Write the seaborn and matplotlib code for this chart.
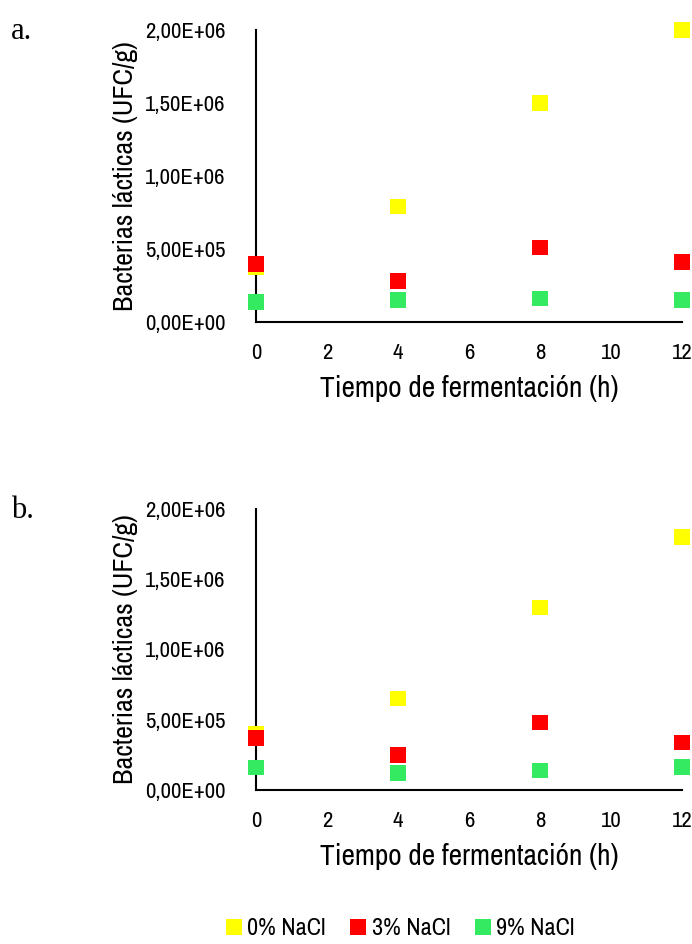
import seaborn as sns
import matplotlib.pyplot as plt
import pandas as pd
from matplotlib import font_manager
from matplotlib.lines import Line2D
from matplotlib.ticker import FuncFormatter

hours = [0, 4, 8, 12]
series_names = ['0% NaCl', '3% NaCl', '9% NaCl']
colors = ['#FFFF00', '#FF0000', '#33EA60']

# panel a
a_0 = [3.75e5, 7.9e5, 1.5e6, 2.0e6]
a_3 = [3.98e5, 2.8e5, 5.1e5, 4.1e5]
a_9 = [1.38e5, 1.5e5, 1.6e5, 1.5e5]

# panel b
b_0 = [4.0e5, 6.5e5, 1.3e6, 1.8e6]
b_3 = [3.7e5, 2.5e5, 4.8e5, 3.4e5]
b_9 = [1.6e5, 1.2e5, 1.4e5, 1.65e5]

yticks = [0, 5e5, 1e6, 1.5e6, 2e6]
xticks = [0, 2, 4, 6, 8, 10, 12]

sns.set_style('white')
names = {f.name for f in font_manager.fontManager.ttflist}
narrow = sorted(n for n in names if 'Narrow' in n or 'Condensed' in n)
plt.rcParams['font.family'] = narrow[:1] + ['DejaVu Sans']
plt.rcParams['font.stretch'] = 'condensed'
plt.rcParams['text.color'] = 'black'
plt.rcParams['axes.labelcolor'] = 'black'
plt.rcParams['xtick.color'] = 'black'
plt.rcParams['ytick.color'] = 'black'


def sci_comma(v, _):
    s = f'{v:.2E}'
    return s.replace('.', ',')


def make_df(v0, v3, v9):
    rows = []
    for name, vals in zip(series_names, [v0, v3, v9]):
        for h, v in zip(hours, vals):
            rows.append({'h': h, 'ufc': v, 'serie': name})
    return pd.DataFrame(rows)


def draw(ax, df, letter):
    sns.scatterplot(data=df, x='h', y='ufc', hue='serie', palette=colors,
                    marker='s', s=125, linewidth=0, legend=False, ax=ax,
                    clip_on=False, zorder=3)
    ax.set_xlim(0, 12)
    ax.set_ylim(0, 2e6)
    ax.set_xticks(xticks)
    ax.set_yticks(yticks)
    ax.yaxis.set_major_formatter(FuncFormatter(sci_comma))
    ax.tick_params(axis='y', length=0, labelsize=16.4, pad=22)
    ax.tick_params(axis='x', length=0, labelsize=16.4, pad=15)
    ax.set_xlabel('Tiempo de fermentación (h)', fontsize=21.2, labelpad=9)
    ax.set_ylabel('Bacterias lácticas (UFC/g)', fontsize=20.2, labelpad=5)
    for side in ['top', 'right']:
        ax.spines[side].set_visible(False)
    for side in ['left', 'bottom']:
        ax.spines[side].set_color('black')
        ax.spines[side].set_linewidth(1.5)
    ax.text(-0.575, 1.045, letter, transform=ax.transAxes, fontsize=22,
            family='Liberation Serif', va='top')


fig = plt.figure(figsize=(6.92, 9.44), dpi=100)
ax1 = fig.add_axes([0.370, 0.659, 0.6155, 0.309])
ax2 = fig.add_axes([0.370, 0.163, 0.6155, 0.298])

draw(ax1, make_df(a_0, a_3, a_9), 'a.')
draw(ax2, make_df(b_0, b_3, b_9), 'b.')

handles = [Line2D([], [], marker='s', linestyle='', markersize=11,
                  markerfacecolor=c, markeredgewidth=0) for c in colors]
fig.legend(handles, series_names, loc='center', bbox_to_anchor=(0.578, 0.016),
           ncol=3, frameon=False, fontsize=17.4, handlelength=0.7,
           handletextpad=0.2, columnspacing=1.0)

fig.savefig('out.png', dpi=100)
